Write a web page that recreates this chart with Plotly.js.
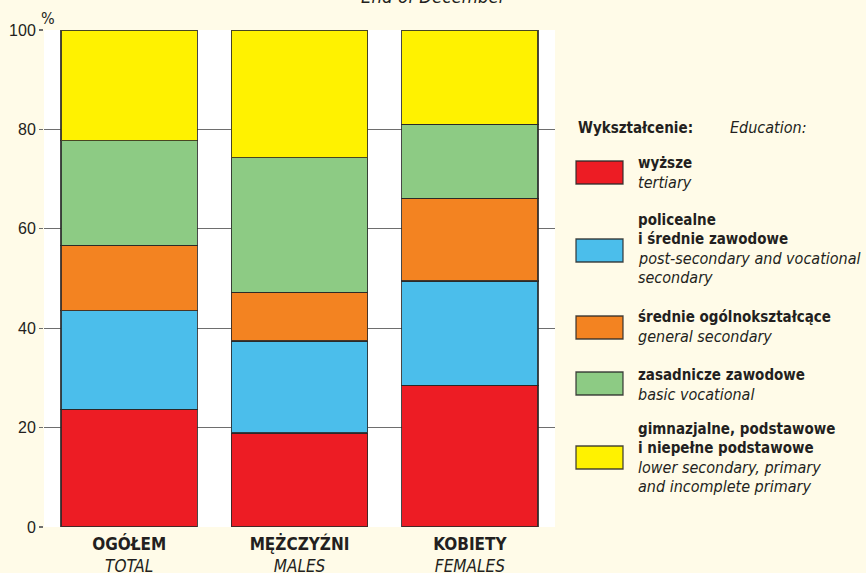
<!DOCTYPE html>
<html>
<head>
<meta charset="utf-8">
<script src="https://cdn.plot.ly/plotly-3.0.1.min.js"></script>
<style>html,body{margin:0;padding:0;background:#FFFBE8;}#chart{width:866px;height:573px;}</style>
</head>
<body>
<div id="chart"></div>
<script>
// ---- data ----
const categoriesPL = ['OGÓŁEM', 'MĘŻCZYŹNI', 'KOBIETY'];
const categoriesEN = ['TOTAL', 'MALES', 'FEMALES'];

const seriesPL = ['wyższe', 'policealne<br>i średnie zawodowe', 'średnie ogólnokształcące', 'zasadnicze zawodowe', 'gimnazjalne, podstawowe<br>i niepełne podstawowe'];
const seriesEN = ['tertiary', 'post-secondary and vocational<br>secondary', 'general secondary', 'basic vocational', 'lower secondary, primary<br>and incomplete primary'];

const tertiary = [23.7, 18.9, 28.5];
const postSecondaryVocational = [19.8, 18.5, 21.0];
const generalSecondary = [13.2, 9.8, 16.6];
const basicVocational = [21.0, 27.1, 14.9];
const lowerPrimary = [22.3, 25.7, 19.0];

const yTickVals = [0, 20, 40, 60, 80, 100];
const legendHeaderPL = 'Wykształcenie:';
const legendHeaderEN = 'Education:';
const subtitle = 'End of December';

// ---- styling ----
const colors = ['#ED1C24', '#4BBEEB', '#F38321', '#8DCB84', '#FFF200'];
const seriesValues = [tertiary, postSecondaryVocational, generalSecondary, basicVocational, lowerPrimary];
const FONT = '"DejaVu Sans Condensed", "Liberation Sans", sans-serif';
const TXT = '#231F20';
const W = 866, H = 573;
const M = {l: 44, r: 311, t: 30, b: 46};
const PW = W - M.l - M.r, PH = H - M.t - M.b;
const px2x = px => (px - M.l) / PW;
const px2y = py => (H - M.b - py) / PH;

const tickText = categoriesPL.map((c, i) => '<b>' + c + '</b><br><i>' + categoriesEN[i] + '</i>');

const traces = seriesValues.map((vals, i) => ({
  type: 'bar',
  x: categoriesPL,
  y: vals,
  name: seriesPL[i].replace('<br>', ' '),
  marker: {color: colors[i], line: {color: 'rgba(40,40,40,0.85)', width: 1.3}},
  width: 0.8,
  hoverinfo: 'skip'
}));

// custom legend (layout positions in pixels)
const swatchTop = [161, 239, 316, 372, 446];
const firstLine = [163, 220, 317, 375, 429];
const lineStep = 19.3;
const shapes = [];
const annotations = [];
function textAt(px, py, text, size, anchor) {
  annotations.push({xref: 'paper', yref: 'paper', x: px2x(px), y: px2y(py),
    xanchor: anchor || 'left', yanchor: 'middle', align: 'left', showarrow: false,
    text: text, font: {family: FONT, size: size, color: TXT}});
}
seriesPL.forEach((s, i) => {
  shapes.push({type: 'rect', xref: 'paper', yref: 'paper',
    x0: px2x(576), x1: px2x(623), y0: px2y(swatchTop[i]), y1: px2y(swatchTop[i] + 23),
    fillcolor: colors[i], line: {color: 'rgba(40,40,40,0.85)', width: 1.3}});
  const lines = s.split('<br>').map(t => ({t: '<b>' + t + '</b>', size: 15}))
    .concat(seriesEN[i].split('<br>').map(t => ({t: '<i>' + t + '</i>', size: 16})));
  lines.forEach((ln, k) => textAt(636, firstLine[i] + k * lineStep, ln.t, ln.size));
});
textAt(576, 128, '<b>' + legendHeaderPL + '</b>', 15);
textAt(728, 128, '<i>' + legendHeaderEN + '</i>', 16);
textAt(48, 18, '%', 16, 'center');
textAt(434, -3, '<i>' + subtitle + '</i>', 18.5, 'center');

const layout = {
  width: W, height: H,
  margin: M,
  paper_bgcolor: '#FFFBE8',
  plot_bgcolor: '#FFFFFF',
  barmode: 'stack',
  bargap: 0.2,
  showlegend: false,
  font: {family: FONT, color: TXT},
  xaxis: {
    tickvals: categoriesPL, ticktext: tickText,
    tickfont: {family: FONT, size: 17, color: TXT},
    ticklabelstandoff: 5,
    showgrid: false, zeroline: false, showline: false, ticks: '', fixedrange: true
  },
  yaxis: {
    range: [0, 100], tickvals: yTickVals,
    tickfont: {family: '"Liberation Sans", Arial, sans-serif', size: 16, color: TXT},
    showgrid: true, gridcolor: '#6E6E6E', gridwidth: 1.3,
    zeroline: false, showline: false,
    ticks: 'outside', ticklen: 4, tickcolor: '#6E6E6E', tickwidth: 1.3, fixedrange: true
  },
  shapes: shapes,
  annotations: annotations
};

Plotly.newPlot('chart', traces, layout, {displayModeBar: false, staticPlot: true});
</script>
</body>
</html>
